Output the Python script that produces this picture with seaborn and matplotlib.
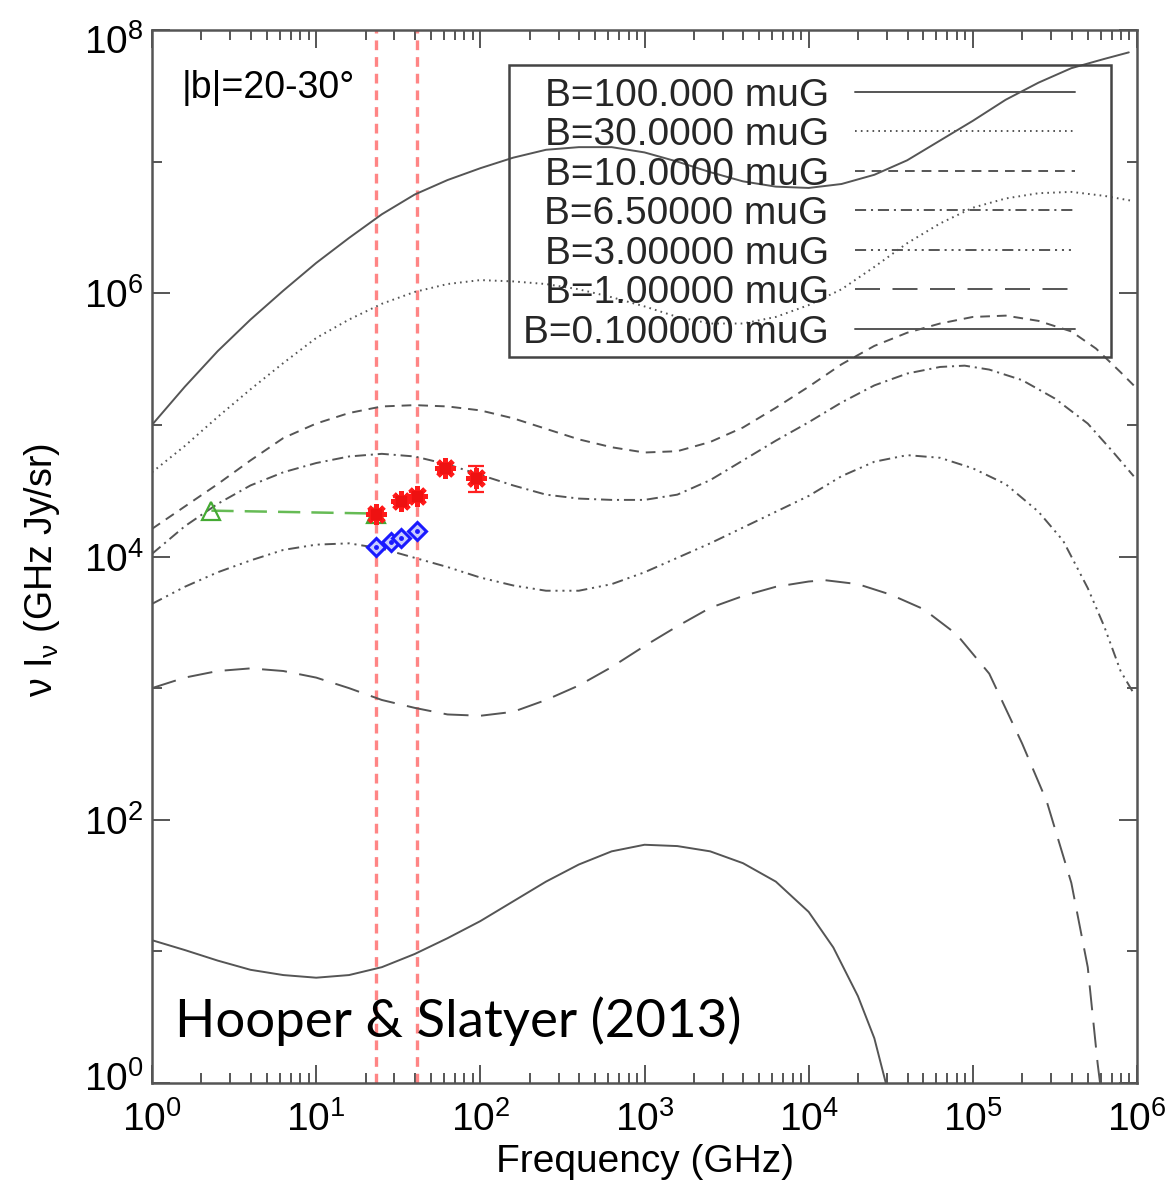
import numpy as np
import pandas as pd
import matplotlib
matplotlib.use("Agg")
import matplotlib.pyplot as plt
import matplotlib.transforms as mtransforms
from matplotlib.patches import Rectangle
import seaborn as sns
from matplotlib.ticker import LogLocator, NullFormatter, LogFormatterSciNotation

# ---------------- data (log10 frequency / log10 intensity) ----------------
b100_logf = [0.0, 0.2, 0.4, 0.6, 0.8, 1.0, 1.2, 1.4, 1.6, 1.8, 2.0, 2.2, 2.4, 2.6, 2.8, 3.0, 3.2, 3.4,
             3.6, 3.8, 4.0, 4.2, 4.4, 4.6, 4.8, 5.0, 5.2, 5.4, 5.6, 5.8, 5.95]
b100_logI = [5.00, 5.29, 5.56, 5.80, 6.02, 6.23, 6.42, 6.60, 6.75, 6.86, 6.95, 7.03, 7.09, 7.11, 7.11,
             7.07, 7.00, 6.92, 6.85, 6.81, 6.80, 6.83, 6.90, 7.01, 7.16, 7.31, 7.47, 7.60, 7.71, 7.78, 7.83]

b30_logf = [0.0, 0.2, 0.4, 0.6, 0.8, 1.0, 1.2, 1.4, 1.6, 1.8, 2.0, 2.2, 2.4, 2.6, 2.8, 3.0, 3.2, 3.4,
            3.6, 3.8, 4.0, 4.2, 4.4, 4.6, 4.8, 5.0, 5.2, 5.4, 5.6, 5.8, 5.98]
b30_logI = [4.64, 4.84, 5.06, 5.27, 5.47, 5.66, 5.80, 5.92, 6.01, 6.07, 6.10, 6.09, 6.07, 6.03, 5.97,
            5.90, 5.82, 5.77, 5.77, 5.82, 5.91, 6.03, 6.20, 6.38, 6.53, 6.65, 6.72, 6.76, 6.77, 6.74, 6.70]

b10_logf = [0.0, 0.2, 0.4, 0.6, 0.8, 1.0, 1.2, 1.4, 1.6, 1.8, 2.0, 2.2, 2.4, 2.6, 2.8, 3.0, 3.2, 3.4,
            3.6, 3.8, 4.0, 4.2, 4.4, 4.6, 4.8, 5.0, 5.2, 5.4, 5.6, 5.75, 5.9, 5.98]
b10_logI = [4.21, 4.38, 4.55, 4.73, 4.90, 5.01, 5.09, 5.14, 5.15, 5.14, 5.11, 5.05, 4.97, 4.89, 4.83,
            4.79, 4.80, 4.87, 4.98, 5.13, 5.29, 5.46, 5.60, 5.70, 5.77, 5.82, 5.83, 5.79, 5.71, 5.58, 5.40, 5.30]

b6p5_logf = [0.0, 0.2, 0.4, 0.6, 0.8, 1.0, 1.2, 1.4, 1.6, 1.8, 2.0, 2.2, 2.4, 2.6, 2.8, 3.0, 3.2, 3.4,
             3.6, 3.8, 4.0, 4.2, 4.4, 4.6, 4.8, 4.95, 5.1, 5.3, 5.5, 5.7, 5.85, 5.98]
b6p5_logI = [4.02, 4.23, 4.40, 4.54, 4.64, 4.71, 4.76, 4.78, 4.76, 4.70, 4.62, 4.54, 4.47, 4.44, 4.43,
             4.43, 4.47, 4.58, 4.73, 4.88, 5.02, 5.17, 5.30, 5.39, 5.44, 5.45, 5.42, 5.34, 5.20, 5.01, 4.80, 4.61]

b3_logf = [0.0, 0.2, 0.4, 0.6, 0.8, 1.0, 1.2, 1.4, 1.6, 1.8, 2.0, 2.2, 2.4, 2.6, 2.8, 3.0, 3.2, 3.4,
           3.6, 3.8, 4.0, 4.2, 4.4, 4.6, 4.8, 5.0, 5.2, 5.4, 5.55, 5.7, 5.8, 5.9, 5.98]
b3_logI = [3.64, 3.77, 3.88, 3.97, 4.05, 4.09, 4.10, 4.06, 3.99, 3.92, 3.84, 3.78, 3.74, 3.74, 3.79,
           3.88, 3.99, 4.10, 4.22, 4.34, 4.46, 4.61, 4.72, 4.77, 4.75, 4.67, 4.55, 4.34, 4.12, 3.76, 3.47, 3.13, 2.96]

b1_logf = [0.0, 0.2, 0.4, 0.6, 0.8, 1.0, 1.2, 1.4, 1.6, 1.8, 2.0, 2.2, 2.4, 2.6, 2.8, 3.0, 3.2, 3.4,
           3.6, 3.8, 4.0, 4.1, 4.3, 4.5, 4.7, 4.9, 5.1, 5.3, 5.45, 5.6, 5.7, 5.76, 5.78]
b1_logI = [3.00, 3.08, 3.13, 3.15, 3.13, 3.08, 3.00, 2.91, 2.85, 2.80, 2.79, 2.82, 2.91, 3.02, 3.16,
           3.32, 3.47, 3.61, 3.70, 3.77, 3.81, 3.82, 3.79, 3.71, 3.60, 3.41, 3.11, 2.58, 2.14, 1.52, 0.88, 0.15, -0.05]

b0p1_logf = [0.0, 0.2, 0.4, 0.6, 0.8, 1.0, 1.2, 1.4, 1.6, 1.8, 2.0, 2.2, 2.4, 2.6, 2.8, 3.0, 3.2, 3.4,
             3.6, 3.8, 4.0, 4.15, 4.3, 4.4, 4.47, 4.49]
b0p1_logI = [1.085, 1.01, 0.93, 0.86, 0.82, 0.80, 0.82, 0.88, 0.98, 1.10, 1.23, 1.38, 1.53, 1.66, 1.76,
             1.81, 1.80, 1.76, 1.67, 1.53, 1.30, 1.03, 0.66, 0.34, 0.0, -0.09]

curve_labels = ["B=100.000 muG", "B=30.0000 muG", "B=10.0000 muG", "B=6.50000 muG",
                "B=3.00000 muG", "B=1.00000 muG", "B=0.100000 muG"]

# measurements
green_freq = [2.3, 23.0]
green_val = [2.23e4, 2.12e4]

red_freq = [23.0, 33.0, 41.0, 61.0, 94.0]
red_val = [2.12e4, 2.66e4, 2.90e4, 4.73e4, 3.98e4]
red_err = [1000, 1500, 1800, 3500, 8700]

blue_freq = [23.0, 28.4, 33.0, 41.0]
blue_val = [1.19e4, 1.30e4, 1.39e4, 1.55e4]

band_freq = [23.0, 41.0]

x_ticks = [1e0, 1e1, 1e2, 1e3, 1e4, 1e5, 1e6]
y_ticks = [1e0, 1e2, 1e4, 1e6, 1e8]

# ---------------- style ----------------
sns.set_theme(style="ticks")
plt.rcParams["font.family"] = ["Liberation Sans", "DejaVu Sans"]
plt.rcParams["mathtext.fontset"] = "custom"
plt.rcParams["mathtext.rm"] = "Liberation Sans"
plt.rcParams["mathtext.it"] = "Liberation Sans:italic"
plt.rcParams["mathtext.bf"] = "Liberation Sans:bold"
plt.rcParams["lines.scale_dashes"] = False

fig = plt.figure(figsize=(11.73, 11.83), dpi=100)
ax = fig.add_axes([152 / 1173, 100 / 1183, 985 / 1173, 1053 / 1183])
ax.set_xscale("log")
ax.set_yscale("log")

curve_color = "#555555"
dash_styles = [
    None,
    (1.2, 3.0),
    (7, 5),
    (8, 3.5, 1.5, 3.5),
    (8, 3.5, 1.5, 3.5, 1.5, 3.5, 1.5, 3.5),
    (18, 9),
    None,
]
series = [(b100_logf, b100_logI), (b30_logf, b30_logI), (b10_logf, b10_logI),
          (b6p5_logf, b6p5_logI), (b3_logf, b3_logI), (b1_logf, b1_logI),
          (b0p1_logf, b0p1_logI)]

handles = []
for (lf, li), lab, ds in zip(series, curve_labels, dash_styles):
    df = pd.DataFrame({"freq": 10 ** np.array(lf), "val": 10 ** np.array(li)})
    sns.lineplot(data=df, x="freq", y="val", ax=ax, color=curve_color, lw=1.4,
                 sort=False, estimator=None, label=lab, legend=False)
    ln = ax.lines[-1]
    ln.set_solid_joinstyle("round")
    if ds is not None:
        ln.set_dashes(ds)
    handles.append(ln)

# red band lines
for f in band_freq:
    ax.axvline(f, color="#ff8585", lw=2.4, dashes=(7, 5), zorder=1)

# green line with triangles
gdf = pd.DataFrame({"freq": green_freq, "val": green_val})
sns.lineplot(data=gdf, x="freq", y="val", ax=ax, color="#66bb55", lw=1.8,
             sort=False, estimator=None, legend=False)
ax.lines[-1].set_dashes((16, 8))
ax.plot(green_freq, green_val, ls="none", marker="^", ms=13, mfc="none",
        mec="#44aa33", mew=1.6, zorder=4)

# blue diamonds
ax.plot(blue_freq, blue_val, ls="none", marker="D", ms=9, mfc="#c8ccff",
        mec="#1a1aff", mew=2.2, zorder=5)
ax.plot(blue_freq, blue_val, ls="none", marker="o", ms=2.5, mfc="#1a1aff",
        mec="#1a1aff", zorder=5)

# red stars with errors
ax.errorbar(red_freq, red_val, yerr=red_err, fmt="none", ecolor="#ff2020",
            elinewidth=1.6, capsize=6, capthick=1.6, zorder=5)
ax.plot(red_freq, red_val, ls="none", marker=(8, 2, 0), ms=15, mec="#ff1a1a",
        mew=3.5, zorder=6)
ax.plot(red_freq, red_val, ls="none", marker="s", ms=7, mfc="#ee1111",
        mec="#ee1111", zorder=6)

# ---------------- axes ----------------
ax.set_xlim(1e0, 1e6)
ax.set_ylim(1e0, 1e8)
ax.xaxis.set_major_locator(LogLocator(base=10, numticks=20))
ax.xaxis.set_minor_locator(LogLocator(base=10, subs=np.arange(2, 10), numticks=20))
ax.xaxis.set_minor_formatter(NullFormatter())
ax.yaxis.set_major_locator(LogLocator(base=100, numticks=20))
ax.yaxis.set_minor_locator(LogLocator(base=100, subs=(10.0,), numticks=20))
ax.yaxis.set_minor_formatter(NullFormatter())
ax.set_xticks(x_ticks)
ax.set_yticks(y_ticks)
ax.xaxis.set_major_formatter(LogFormatterSciNotation())
ax.yaxis.set_major_formatter(LogFormatterSciNotation())

for sp in ax.spines.values():
    sp.set_color("#555555")
    sp.set_linewidth(1.8)
ax.tick_params(which="both", direction="in", top=True, right=True, color="#555555",
               width=1.4, labelsize=28, labelcolor="black")
ax.tick_params(which="major", length=13)
ax.tick_params(which="minor", length=7)
ax.tick_params(axis="x", which="major", pad=13)
ax.tick_params(axis="y", which="major", pad=6)

# nudge the end labels of the y axis inwards, as in the reference
ylabels = ax.get_yticklabels()
ylabels[0].set_transform(ylabels[0].get_transform() +
                         mtransforms.ScaledTranslation(0, 7 / 100, fig.dpi_scale_trans))
ylabels[-1].set_transform(ylabels[-1].get_transform() +
                          mtransforms.ScaledTranslation(0, -9 / 100, fig.dpi_scale_trans))

ax.set_xlabel("Frequency (GHz)", fontsize=28, color="black")
ax.set_ylabel(r"$\mathrm{\nu\ I_{\nu}}$ (GHz Jy/sr)", fontsize=27, color="black")
ax.xaxis.set_label_coords(0.5, -0.058)
ax.yaxis.set_label_coords(-0.091, 0.487)

ax.text(0.030, 0.945, "|b|=20-30°", transform=ax.transAxes, fontsize=27,
        va="center", ha="left", color="black")
ax.text(0.023, 0.044, "Hooper & Slatyer (2013)", transform=ax.transAxes,
        fontsize=38, va="baseline", ha="left", color="black",
        family=["Lato", "DejaVu Sans"])

# legend box (frame drawn to the reference size) and entries
ax.add_patch(Rectangle((0.3624, 0.6895), 0.9736 - 0.3624, 0.9668 - 0.6895,
                       transform=ax.transAxes, fill=False, edgecolor="#444444",
                       lw=1.8, zorder=7))
leg = ax.legend(handles=handles, labels=curve_labels, loc="upper left",
                bbox_to_anchor=(0.3766, 0.9548), borderaxespad=0, markerfirst=False,
                fontsize=28, handlelength=5.66, handletextpad=0.67, labelspacing=0.09,
                borderpad=0.0, frameon=False)

fig.savefig("out.png", dpi=100)
